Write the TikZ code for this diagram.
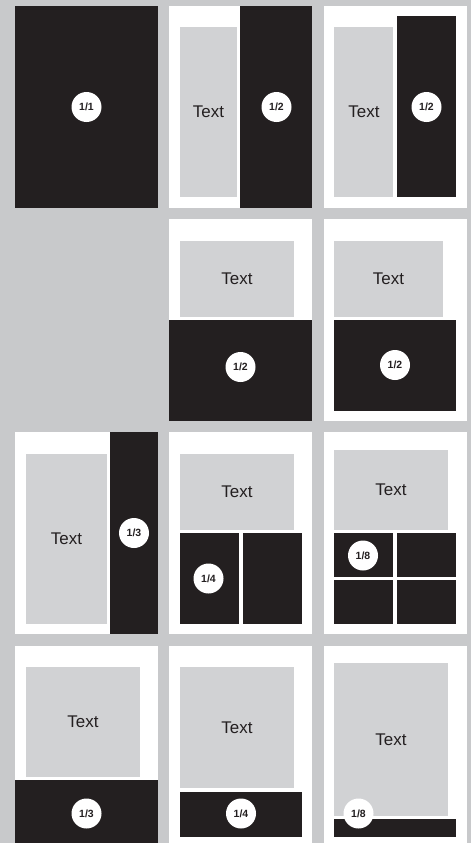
\documentclass[tikz,border=0pt]{standalone}
\usepackage{fontspec}
\setmainfont{Liberation Sans}
\usetikzlibrary{positioning}
\definecolor{bggray}{HTML}{C8C9CB}
\definecolor{ink}{HTML}{231F20}
\definecolor{boxgray}{HTML}{D1D2D4}
\tikzset{
  page/.style={fill=white},
  textbox/.style={fill=boxgray},
  block/.style={fill=ink},
  txt/.style={text=ink,inner sep=0pt,font=\fontsize{17}{19}\selectfont},
  badge/.style={circle,fill=white,minimum size=30bp,inner sep=0pt,text=ink,font=\bfseries\fontsize{10.5}{12}\selectfont}
}
\begin{document}
\begin{tikzpicture}[x=1bp,y=-1bp]
  \useasboundingbox (0,0) rectangle (471,843);
  \clip (0,0) rectangle (471,843);
  \fill[bggray] (0,0) rectangle (471,843);
  \foreach \px/\py in {15/6,169/6,324/6,169/219,324/219,15/432,169/432,324/432,15/646,169/646,324/646}{
    \fill[page] (\px,\py) rectangle ++(143,202);
  }
  % row 1
  \fill[block] (15,6) rectangle (158,208);
  \node[badge] (b11) at (86.5,107) {1/1};
  \fill[textbox] (180,27) rectangle (237,197);
  \fill[block] (240,6) rectangle (312,208);
  \node[txt] (t12) at (208.5,112) {Text};
  \node[badge] (b12) at (276.5,107) {1/2};
  \fill[textbox] (334,27) rectangle (393,197);
  \fill[block] (397,16) rectangle (456,197);
  \node[txt] (t13) at (364,112) {Text};
  \node[badge] (b13) at (426.5,107) {1/2};
  % row 2
  \fill[textbox] (180,241) rectangle (294,317);
  \fill[block] (169,320) rectangle (312,421);
  \node[txt] (t22) at (237,279) {Text};
  \node[badge] (b22) at (240.5,367) {1/2};
  \fill[textbox] (334,241) rectangle (443,317);
  \fill[block] (334,320) rectangle (456,411);
  \node[txt] (t23) at (388.5,279) {Text};
  \node[badge] (b23) at (395,365) {1/2};
  % row 3
  \fill[textbox] (26,454) rectangle (107,624);
  \fill[block] (110,432) rectangle (158,634);
  \node[txt] (t31) at (66.5,539) {Text};
  \node[badge] (b31) at (134,533) {1/3};
  \fill[textbox] (180,454) rectangle (294,530);
  \fill[block] (180,533) rectangle (239,624);
  \fill[block] (242.5,533) rectangle (302,624);
  \node[txt] (t32) at (237,492) {Text};
  \node[badge] (b32) at (208.5,578.5) {1/4};
  \fill[textbox] (334,450) rectangle (448,530);
  \foreach \bx/\by in {334/533,397/533,334/580,397/580}{
    \fill[block] (\bx,\by) rectangle ++(59,43.5);
  }
  \node[txt] (t33) at (391,490) {Text};
  \node[badge] (b33) at (363,555.5) {1/8};
  % row 4
  \fill[textbox] (26,667) rectangle (140,777);
  \fill[block] (15,780) rectangle (158,848);
  \node[txt] (t41) at (83,722) {Text};
  \node[badge] (b41) at (86.5,813.5) {1/3};
  \fill[textbox] (180,667) rectangle (294,788);
  \fill[block] (180,791.5) rectangle (302,837);
  \node[txt] (t42) at (237,727.5) {Text};
  \node[badge] (b42) at (241,813.5) {1/4};
  \fill[textbox] (334,663) rectangle (448,816);
  \fill[block] (334,819) rectangle (456,837);
  \node[txt] (t43) at (391,739.5) {Text};
  \node[badge] (b43) at (358.5,813.5) {1/8};
\end{tikzpicture}
\end{document}
